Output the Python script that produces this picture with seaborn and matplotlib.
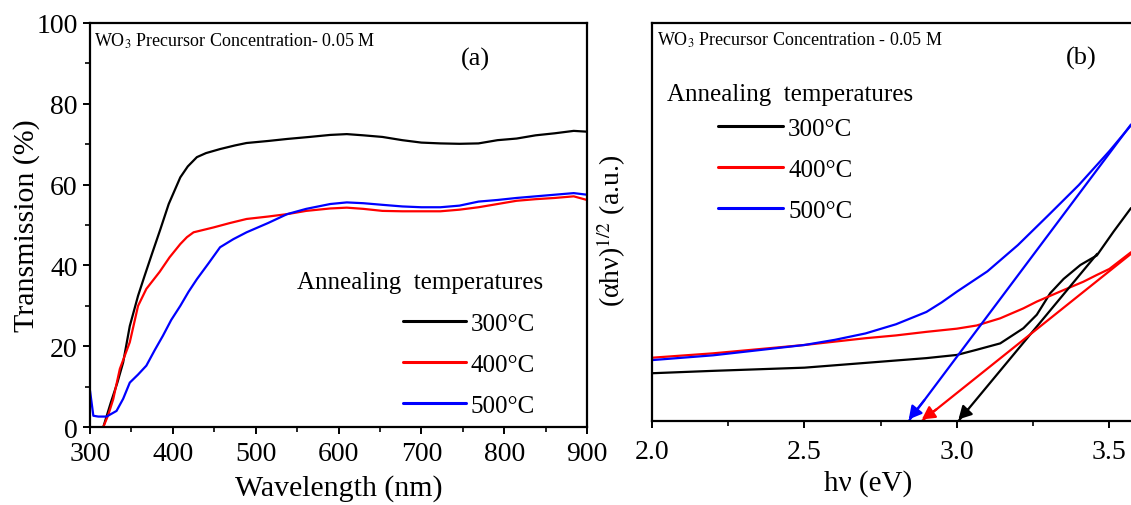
import matplotlib
matplotlib.use("Agg")
import matplotlib.pyplot as plt
import seaborn as sns
from matplotlib.ticker import MultipleLocator, NullLocator, FormatStrFormatter
from matplotlib.lines import Line2D

# ---------------- data: panel (a) transmission ----------------
wl_300 = [316, 325, 333, 340, 348, 358, 366, 375, 385, 395, 402, 409, 418, 429, 440, 457, 475, 489,
          515, 538, 565, 590, 610, 630, 653, 677, 700, 723, 746, 769, 792, 815, 838, 861, 884, 900]
tr_300 = [0, 6, 11, 16, 25, 32.5, 37.5, 43, 49, 55.2, 58.5, 61.8, 64.5, 66.8, 67.8, 68.8, 69.7, 70.3,
          70.8, 71.3, 71.8, 72.3, 72.5, 72.2, 71.8, 71.0, 70.4, 70.2, 70.1, 70.2, 71.0, 71.4, 72.2, 72.7, 73.3, 73.1]

wl_400 = [316, 322, 328, 336, 348, 358, 368, 384, 396, 409, 417, 425, 437, 449, 469, 489, 515, 538,
          561, 590, 610, 630, 653, 677, 700, 723, 746, 769, 792, 815, 838, 861, 884, 900]
tr_400 = [0, 3, 6.9, 14.4, 21, 30, 34.2, 38.4, 42, 45.3, 47, 48.2, 48.8, 49.4, 50.5, 51.5, 52.1, 52.7,
          53.5, 54.1, 54.3, 54.0, 53.5, 53.4, 53.4, 53.4, 53.8, 54.4, 55.2, 56.0, 56.4, 56.7, 57.1, 56.2]

wl_500 = [300, 304, 310, 320, 332, 340, 348, 358, 368, 378, 388, 398, 409, 419, 429, 443, 457, 473, 489,
          515, 538, 561, 590, 610, 630, 653, 677, 700, 723, 746, 769, 792, 815, 838, 861, 884, 900]
tr_500 = [9, 2.8, 2.6, 2.6, 4, 7, 11, 13, 15.2, 19, 22.6, 26.5, 30, 33.5, 36.6, 40.5, 44.5, 46.5, 48.2,
          50.5, 52.7, 54.0, 55.2, 55.6, 55.4, 55.0, 54.6, 54.4, 54.4, 54.8, 55.8, 56.2, 56.7, 57.1, 57.5, 57.9, 57.5]

# ---------------- data: panel (b) Tauc plot ----------------
ev_300 = [2.0, 2.2, 2.5, 2.7, 2.9, 3.0, 3.065, 3.142, 3.218, 3.262, 3.306, 3.35, 3.405, 3.459, 3.514, 3.571]
ah_300 = [0.120, 0.126, 0.134, 0.146, 0.158, 0.166, 0.179, 0.195, 0.233, 0.267, 0.321, 0.357, 0.392, 0.416, 0.476, 0.535]

ev_400 = [2.0, 2.2, 2.5, 2.7, 2.8, 2.9, 3.0, 3.065, 3.142, 3.218, 3.262, 3.35, 3.415, 3.459, 3.5, 3.571]
ah_400 = [0.159, 0.170, 0.191, 0.208, 0.215, 0.224, 0.232, 0.240, 0.258, 0.283, 0.300, 0.329, 0.350, 0.367, 0.382, 0.424]

ev_500 = [2.0, 2.2, 2.5, 2.6, 2.7, 2.8, 2.9, 2.95, 3.0, 3.1, 3.2, 3.3, 3.4, 3.5, 3.571]
ah_500 = [0.153, 0.165, 0.191, 0.204, 0.220, 0.243, 0.274, 0.298, 0.325, 0.376, 0.442, 0.517, 0.593, 0.678, 0.743]

# linear-fit extrapolations (band-gap tangents)
tan_ev_300 = [3.005, 3.46]
tan_ah_300 = [0.0, 0.42]
tan_ev_400 = [2.885, 3.571]
tan_ah_400 = [0.0, 0.42]
tan_ev_500 = [2.842, 3.571]
tan_ah_500 = [0.0, 0.745]

labels = ["300°C", "400°C", "500°C"]
colors = ["#000000", "#ff0000", "#0000ff"]

# ---------------- style ----------------
sns.set_theme(style="ticks")
plt.rcParams['font.family'] = ['Liberation Serif', 'DejaVu Serif']
plt.rcParams['mathtext.fontset'] = 'stix'
plt.rcParams['text.color'] = 'black'
plt.rcParams['axes.labelcolor'] = 'black'
plt.rcParams['xtick.color'] = 'black'
plt.rcParams['ytick.color'] = 'black'
plt.rcParams['axes.edgecolor'] = 'black'

fig = plt.figure(figsize=(11.31, 5.06), dpi=100)
ax1 = fig.add_axes([0.0796, 0.154, 0.4394, 0.7986])
ax2 = fig.add_axes([0.5765, 0.166, 0.4235, 0.7866])

LW = 1.6

# ---------------- panel (a) ----------------
for wl, tr, c in zip([wl_300, wl_400, wl_500], [tr_300, tr_400, tr_500], colors):
    sns.lineplot(x=wl, y=tr, ax=ax1, color=c, lw=LW, estimator=None, sort=False, legend=False)

ax1.set_xlim(300, 900)
ax1.set_ylim(0, 100)
ax1.xaxis.set_major_locator(MultipleLocator(100))
ax1.xaxis.set_minor_locator(MultipleLocator(50))
ax1.yaxis.set_major_locator(MultipleLocator(20))
ax1.yaxis.set_minor_locator(MultipleLocator(10))
ax1.set_xlabel("Wavelength (nm)", fontsize=21.5)
ax1.set_ylabel("Transmission (%)", fontsize=21.5)
ax1.xaxis.set_label_coords(0.5, -0.117)
ax1.yaxis.set_label_coords(-0.1, 0.5)

handles = [Line2D([0], [0], color=c, lw=2.2) for c in colors]
ax1.legend(handles, labels, loc="upper left", bbox_to_anchor=(0.63, 0.283),
           frameon=False, fontsize=18, handlelength=2.5, handletextpad=0.2,
           labelspacing=0.74, borderaxespad=0, borderpad=0)
ax1.text(0.4165, 0.359, "Annealing  temperatures", transform=ax1.transAxes,
         fontsize=18, ha="left", va="center")
ax1.text(0.008, 0.958, "WO$_3$ Precursor Concentration- 0.05 M", transform=ax1.transAxes,
         fontsize=13, ha="left", va="center")
ax1.text(0.775, 0.913, "(a)", transform=ax1.transAxes, fontsize=19, ha="center", va="center")

# ---------------- panel (b) ----------------
for ev, ah, c in zip([ev_300, ev_400, ev_500], [ah_300, ah_400, ah_500], colors):
    sns.lineplot(x=ev, y=ah, ax=ax2, color=c, lw=LW, estimator=None, sort=False, legend=False)
for ev, ah, c in zip([tan_ev_300, tan_ev_400, tan_ev_500], [tan_ah_300, tan_ah_400, tan_ah_500], colors):
    sns.lineplot(x=ev, y=ah, ax=ax2, color=c, lw=LW, estimator=None, sort=False, legend=False)
    # arrow head at the intercept end
    fx = ev[0] + 0.07 * (ev[1] - ev[0])
    fy = ah[0] + 0.07 * (ah[1] - ah[0])
    ax2.annotate("", xy=(ev[0], ah[0] + 0.004), xytext=(fx, fy),
                 arrowprops=dict(arrowstyle="-|>,head_length=0.55,head_width=0.3",
                                 color=c, lw=LW, mutation_scale=14,
                                 shrinkA=0, shrinkB=0))

ax2.set_xlim(2.0, 3.571)
ax2.set_ylim(0, 1)
ax2.xaxis.set_major_locator(MultipleLocator(0.5))
ax2.xaxis.set_minor_locator(MultipleLocator(0.25))
ax2.xaxis.set_major_formatter(FormatStrFormatter("%.1f"))
ax2.yaxis.set_major_locator(NullLocator())
ax2.yaxis.set_minor_locator(NullLocator())
ax2.spines["right"].set_visible(False)
ax2.set_xlabel("hν (eV)", fontsize=21)
ax2.set_ylabel("(αhν)$^{1/2}$ (a.u.)", fontsize=20)
ax2.xaxis.set_label_coords(0.452, -0.122)
ax2.yaxis.set_label_coords(-0.05, 0.48)

ax2.legend(handles, labels, loc="upper left", bbox_to_anchor=(0.138, 0.762),
           frameon=False, fontsize=18, handlelength=2.6, handletextpad=0.2,
           labelspacing=0.74, borderaxespad=0, borderpad=0)
ax2.text(0.031, 0.8216, "Annealing  temperatures", transform=ax2.transAxes,
         fontsize=18, ha="left", va="center")
ax2.text(0.0104, 0.96, "WO$_3$ Precursor Concentration - 0.05 M", transform=ax2.transAxes,
         fontsize=13, ha="left", va="center")
ax2.text(0.896, 0.9146, "(b)", transform=ax2.transAxes, fontsize=19, ha="center", va="center")

for ax in (ax1, ax2):
    for s in ax.spines.values():
        s.set_linewidth(1.6)
        s.set_color("black")
    ax.tick_params(which="major", direction="out", length=5, width=1.4, labelsize=20, pad=4)
    ax.tick_params(which="minor", direction="out", length=3.5, width=1.2)
ax1.tick_params(axis="x", which="major", pad=5)
ax2.tick_params(axis="x", which="major", pad=8)

fig.savefig("out.png", dpi=100)
